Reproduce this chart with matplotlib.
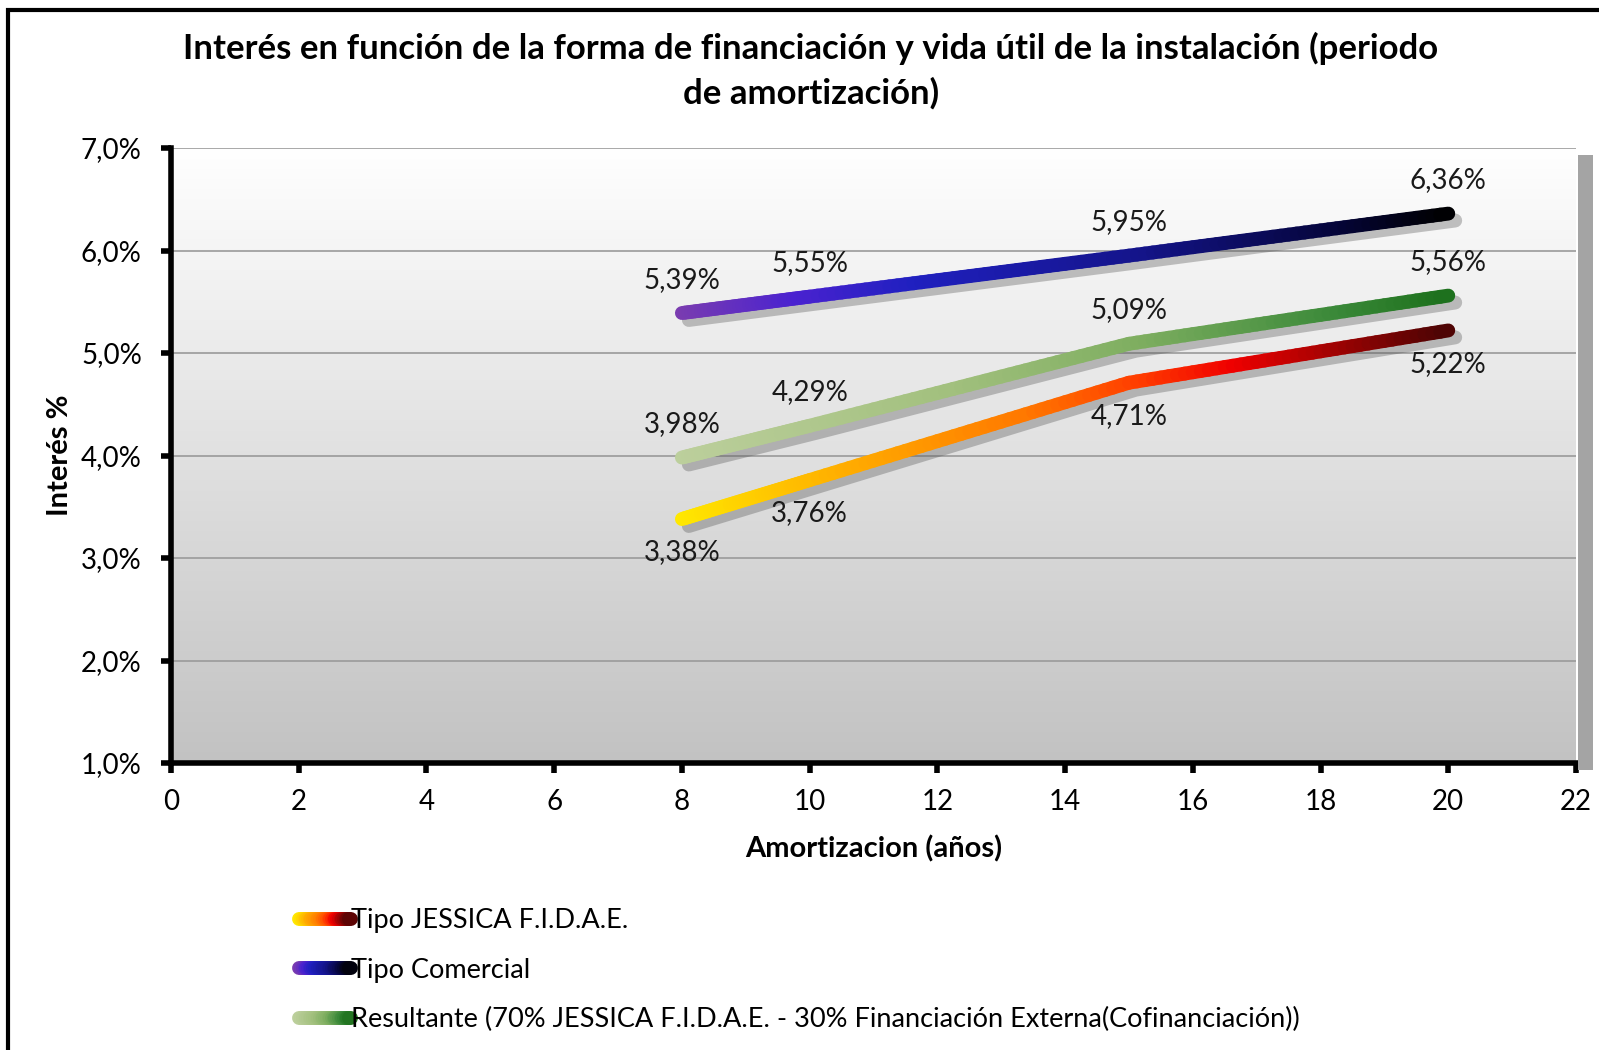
import matplotlib
matplotlib.use("Agg")
import matplotlib.pyplot as plt
import numpy as np
from matplotlib.collections import LineCollection
from matplotlib.colors import LinearSegmentedColormap
from matplotlib.legend_handler import HandlerBase
from matplotlib.patches import Rectangle
import matplotlib.patheffects as pe

plt.rcParams['font.family'] = ['Lato', 'DejaVu Sans']

# data
years = [8, 10, 15, 20]
jessica = [3.38, 3.76, 4.71, 5.22]
comercial = [5.39, 5.55, 5.95, 6.36]
resultante = [3.98, 4.29, 5.09, 5.56]
labels = ["Tipo JESSICA F.I.D.A.E.", "Tipo Comercial",
          "Resultante (70% JESSICA F.I.D.A.E. - 30% Financiación Externa(Cofinanciación))"]
yticks = [1, 2, 3, 4, 5, 6, 7]
xticks = list(range(0, 23, 2))

cmap_j = LinearSegmentedColormap.from_list("j", [(0, "#ffe800"), (0.2, "#ffb000"), (0.45, "#ff7800"),
                                                 (0.6, "#ff3c00"), (0.72, "#f00000"), (1, "#4a0404")])
cmap_c = LinearSegmentedColormap.from_list("c", [(0, "#7a3cb0"), (0.15, "#4a22d0"), (0.3, "#2020c0"),
                                                 (0.6, "#14148a"), (0.85, "#05053c"), (1, "#000000")])
cmap_r = LinearSegmentedColormap.from_list("r", [(0, "#bccf9c"), (0.35, "#a2c07e"), (0.6, "#7eae60"),
                                                 (0.85, "#3c8a3a"), (1, "#1c701c")])
series = [(jessica, cmap_j, -1), (comercial, cmap_c, 1), (resultante, cmap_r, 1)]

LW = 10
FS = 20


def gradient_segments(xs, ys, n=40):
    # split each piece of the polyline so the colour can change along it
    pts = []
    for i in range(len(xs) - 1):
        t = np.linspace(0, 1, n, endpoint=False)
        pts.append(np.column_stack([xs[i] + (xs[i + 1] - xs[i]) * t, ys[i] + (ys[i + 1] - ys[i]) * t]))
    pts.append([[xs[-1], ys[-1]]])
    pts = np.vstack(pts)
    segs = np.stack([pts[:-1], pts[1:]], axis=1)
    return segs, (segs[:, 0, 0] - xs[0]) / (xs[-1] - xs[0])


class GradientHandler(HandlerBase):
    def __init__(self, cmap):
        super().__init__()
        self.cmap = cmap

    def create_artists(self, legend, orig, xd, yd, w, h, fs, trans):
        y = h / 2 - yd
        segs, c = gradient_segments([-xd, -xd + w], [y, y], n=30)
        lc = LineCollection(segs, colors=self.cmap(c), linewidths=LW, capstyle='round', transform=trans)
        return [lc]


fig = plt.figure(figsize=(15.99, 10.5), dpi=100)
ax = fig.add_axes([171 / 1599, 1 - 763 / 1050, (1576 - 171) / 1599, (763 - 148) / 1050])

# background gradient of the plot area
grad = np.linspace(1, 0, 256).reshape(-1, 1)
bg = LinearSegmentedColormap.from_list("bg", ["#c2c2c2", "#ffffff"])
ax.imshow(grad, cmap=bg, aspect='auto', extent=[0, 22, 1, 7], zorder=0, vmin=0, vmax=1)

for yv in yticks:
    ax.axhline(yv, color='#9a9a9a', lw=1.2, zorder=0.5)

handles = []
for vals, cmap, side in series:
    ax.plot(years, vals, lw=LW, solid_capstyle='round', solid_joinstyle='round', color='k', zorder=2,
            path_effects=[pe.SimpleLineShadow(offset=(5, -5), shadow_color='#555555', alpha=0.35)])
    segs, c = gradient_segments(years, vals)
    lc = LineCollection(segs, colors=cmap(c), linewidths=LW, capstyle='round', zorder=3)
    ax.add_collection(lc)
    handles.append(lc)
    for xv, yv in zip(years, vals):
        ax.annotate(f"{yv:.2f}%".replace('.', ','), (xv, yv), xytext=(0, 24 * side),
                    textcoords='offset points', ha='center', va='center', fontsize=FS, color='#1a1a1a', zorder=4)

ax.set_xlim(0, 22)
ax.set_ylim(1, 7)
ax.set_xticks(xticks)
ax.set_yticks(yticks)
ax.set_yticklabels([f"{v},0%" for v in yticks])
ax.tick_params(axis='both', direction='out', length=7, width=4, labelsize=FS, colors='black')
ax.tick_params(axis='y', pad=14)
ax.tick_params(axis='x', pad=12)
for s in ['top', 'right']:
    ax.spines[s].set_visible(False)
for s in ['left', 'bottom']:
    ax.spines[s].set_linewidth(4)
ax.set_xlabel("Amortizacion (años)", fontsize=21, fontweight='bold', labelpad=14)
ax.set_ylabel("Interés %", fontsize=21, fontweight='bold', labelpad=6)

fig.text(811 / 1599, 1 - 71 / 1050,
         "Interés en función de la forma de financiación y vida útil de la instalación (periodo\nde amortización)",
         ha='center', va='center', fontsize=25, fontweight='bold', linespacing=1.45)

# shadow strip on the right of the plot area
fig.patches.append(Rectangle((1578 / 1599, 1 - 770 / 1050), 15 / 1599, 615 / 1050,
                             transform=fig.transFigure, facecolor='#a4a4a4', edgecolor='none', zorder=0))
# outer frame
fig.patches.append(Rectangle((8 / 1599, -0.2), 1.2, 1.2 - 10 / 1050,
                             transform=fig.transFigure, fill=False, edgecolor='black', lw=3))

fig.legend(handles, labels, loc='upper left', bbox_to_anchor=(275 / 1599, 1 - 884 / 1050),
           frameon=False, fontsize=19.5, handlelength=1.9, handletextpad=0.0, labelspacing=0.9,
           handler_map={h: GradientHandler(s[1]) for h, s in zip(handles, series)})

fig.savefig("out.png", dpi=100)
